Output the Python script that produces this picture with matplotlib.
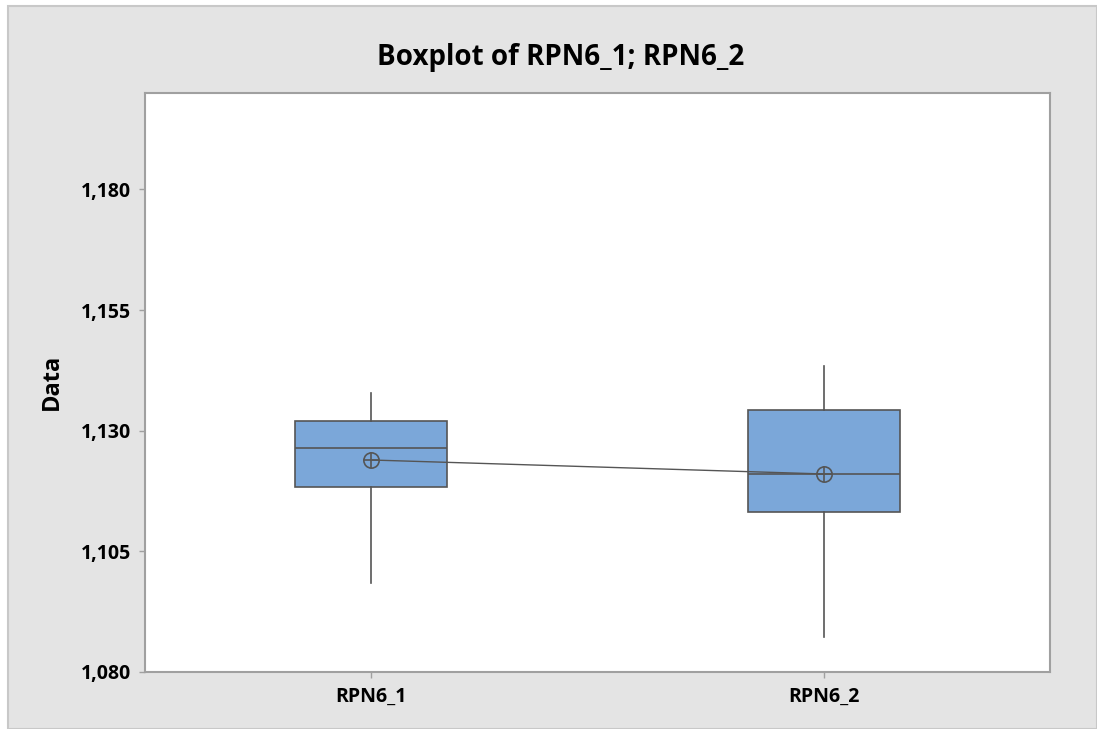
import matplotlib
matplotlib.use("Agg")
import matplotlib.pyplot as plt
from matplotlib.patches import Rectangle
from matplotlib.ticker import FuncFormatter

categories = ["RPN6_1", "RPN6_2"]
whisker_low = [1098.4, 1087.1]
q1 = [1118.3, 1113.2]
medians = [1126.4, 1121.0]
q3 = [1132.0, 1134.2]
whisker_high = [1137.7, 1143.3]
means = [1123.9, 1121.0]
y_ticks = [1080, 1105, 1130, 1155, 1180]

plt.rcParams['font.family'] = ['Open Sans', 'DejaVu Sans']

fig = plt.figure(figsize=(10.97, 7.29), dpi=100)
fig.patch.set_facecolor('white')
bg = Rectangle((8 / 1097, 0), 1 - 8 / 1097, 1 - 6 / 729, transform=fig.transFigure,
               facecolor='#e4e4e4', edgecolor='#c8c8c8', linewidth=1.5, zorder=-10)
fig.patches.append(bg)

ax = fig.add_axes([145 / 1097, 1 - 671.7 / 729, 905 / 1097, (671.7 - 93) / 729])
ax.set_facecolor('white')

stats = []
for i, c in enumerate(categories):
    stats.append(dict(label=c, whislo=whisker_low[i], q1=q1[i], med=medians[i],
                      q3=q3[i], whishi=whisker_high[i], mean=means[i], fliers=[]))
positions = list(range(1, len(categories) + 1))
edge = '#555555'
ax.bxp(stats, positions=positions, widths=0.336, patch_artist=True, showcaps=False,
       showfliers=False,
       boxprops=dict(facecolor='#7ba7d9', edgecolor=edge, linewidth=1.2),
       medianprops=dict(color=edge, linewidth=1.2),
       whiskerprops=dict(color=edge, linewidth=1.2))

ax.plot(positions, means, color=edge, linewidth=1.0, zorder=5)
ax.plot(positions, means, linestyle='none', marker='o', markersize=11,
        markerfacecolor='none', markeredgecolor=edge, markeredgewidth=1.2, zorder=6)
ax.plot(positions, means, linestyle='none', marker='+', markersize=11,
        markeredgecolor=edge, markeredgewidth=1.2, zorder=6)

ax.set_xlim(0.5, 2.5)
ax.set_ylim(1080, 1200)
ax.set_yticks(y_ticks)
ax.yaxis.set_major_formatter(FuncFormatter(lambda v, p: f"{int(v):,}"))
ax.set_xticks(positions)
ax.set_xticklabels(categories)

for s in ax.spines.values():
    s.set_color('#a0a0a0')
    s.set_linewidth(1.5)
ax.tick_params(axis='both', colors='#a0a0a0', labelcolor='black', length=4, width=1,
               labelsize=14)
for lab in ax.get_xticklabels() + ax.get_yticklabels():
    lab.set_fontweight('bold')
ax.tick_params(axis='x', pad=7)
ax.tick_params(axis='y', pad=6)

ax.set_ylabel('Data', fontsize=17, fontweight='bold', labelpad=12)
fig.text(561 / 1097, 1 - 57 / 729, 'Boxplot of RPN6_1; RPN6_2', ha='center', va='center',
         fontsize=20, fontweight='bold')

fig.savefig('out.png', dpi=100)
